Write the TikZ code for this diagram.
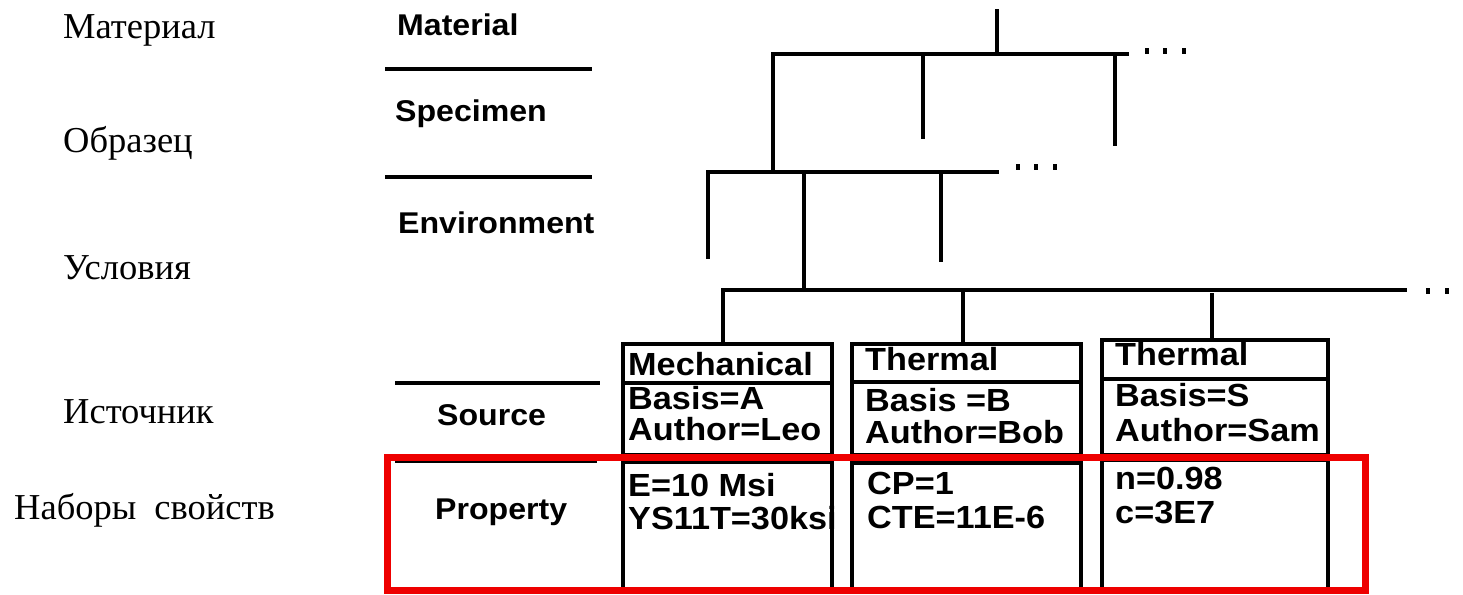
\documentclass[tikz,border=0pt]{standalone}
\usepackage{fontspec}
\setmainfont{Liberation Serif}
\newfontfamily\engb{Liberation Sans}[FakeStretch=1.07]
\definecolor{propred}{RGB}{238,0,0}
\begin{document}
\begin{tikzpicture}[x=1pt,y=-1pt,
  ru/.style={anchor=base west, inner sep=0pt, font=\fontsize{36.5}{40}\selectfont},
  lab/.style={anchor=base west, inner sep=0pt, font=\engb\bfseries\fontsize{30}{34}\selectfont},
  bt/.style={anchor=base west, inner sep=0pt, font=\engb\bfseries\fontsize{32}{36}\selectfont},
  tree/.style={line width=3.5pt, line cap=rect},
  rulel/.style={line width=3.7pt},
  cell/.style={draw, line width=3.7pt, inner sep=0pt, outer sep=0pt},
  redbox/.style={draw=propred, line width=7pt, inner sep=0pt},
  dotmark/.style={fill=black}]
\useasboundingbox (0,0) rectangle (1463,594);

% Russian labels
\node[ru] (ru1) at (63,39) {Материал};
\node[ru] (ru2) at (63,152) {Образец};
\node[ru] (ru3) at (63,279) {Условия};
\node[ru] (ru4) at (63,423) {Источник};
\node[ru] (ru5) at (14,519) {Наборы\hspace{9pt} свойств};

% English level labels
\node[lab] (lMat) at (397,36) {Material};
\node[lab] (lSpe) at (395,121) {Specimen};
\node[lab] (lEnv) at (398,233) {Environment};
\node[lab] (lSrc) at (437,425) {Source};
\node[lab] (lPro) at (435,519) {Property};

% separator rules
\coordinate (r1a) at (385,69);  \coordinate (r1b) at (592,69);
\coordinate (r2a) at (385,177); \coordinate (r2b) at (592,177);
\coordinate (r3a) at (395,383); \coordinate (r3b) at (600,383);
\coordinate (r4a) at (395,461); \coordinate (r4b) at (597,461);
\draw[rulel] (r1a) -- (r1b);
\draw[rulel] (r2a) -- (r2b);
\draw[rulel] (r3a) -- (r3b);
\draw[rulel] (r4a) -- (r4b);

% boxes
\node[cell, minimum width=209pt, minimum height=111pt] (b1u) at (727.5,399.5) {};
\node[cell, minimum width=209pt, minimum height=128pt] (b1l) at (727.5,526) {};
\node[cell, minimum width=229pt, minimum height=111pt] (b2u) at (966.5,399.5) {};
\node[cell, minimum width=229pt, minimum height=127pt] (b2l) at (966.5,526.5) {};
\node[cell, minimum width=226pt, minimum height=115pt] (b3u) at (1215,397.5) {};
\node[cell, minimum width=226pt, minimum height=130pt] (b3l) at (1215,525) {};
\draw[rulel] (b1u.west |- 0,383) -- (b1u.east |- 0,383);
\draw[rulel] (b2u.west |- 0,382) -- (b2u.east |- 0,382);
\draw[rulel] (b3u.west |- 0,379) -- (b3u.east |- 0,379);

% box texts
\node[bt] (t1a) at (628,375) {Mechanical};
\node[bt] (t1b) at (628,409) {Basis=A};
\node[bt] (t1c) at (628,440) {Author=Leo};
\node[bt] (t1d) at (628,496) {E=10 Msi};
\node[bt] (t1e) at (628,529) {YS11T=30ksi};
\node[bt] (t2a) at (865,370) {Thermal};
\node[bt] (t2b) at (865,411) {Basis =B};
\node[bt] (t2c) at (865,443) {Author=Bob};
\node[bt] (t2d) at (867,494) {CP=1};
\node[bt] (t2e) at (867,528) {CTE=11E-6};
\node[bt] (t3a) at (1115,365) {Thermal};
\node[bt] (t3b) at (1115,406) {Basis=S};
\node[bt] (t3c) at (1115,441) {Author=Sam};
\node[bt] (t3d) at (1115,489) {n=0.98};
\node[bt] (t3e) at (1115,523) {c=3E7};

% tree
\coordinate (root) at (997,11);
\coordinate (j1) at (997,54);
\coordinate (bar1L) at (773,54);
\coordinate (bar1R) at (1127,54);
\coordinate (s1top) at (923,54);  \coordinate (s1bot) at (923,137);
\coordinate (s2top) at (1115,54); \coordinate (s2bot) at (1115,144);
\coordinate (j2) at (773,172);
\coordinate (bar2L) at (708,172);
\coordinate (bar2R) at (997,172);
\coordinate (e1bot) at (708,257);
\coordinate (e2top) at (941,172); \coordinate (e2bot) at (941,260);
\coordinate (e3top) at (804,172); \coordinate (j3) at (804,290);
\coordinate (bar3L) at (723,290);
\coordinate (bar3R) at (1405,290);
\coordinate (k2) at (963,290);
\coordinate (k3) at (1212,295);

\draw[tree] (root) -- (j1);
\draw[tree] (j2) -- (bar1L) -- (bar1R);
\draw[tree] (s1top) -- (s1bot);
\draw[tree] (s2top) -- (s2bot);
\draw[tree] (e1bot) -- (bar2L) -- (bar2R);
\draw[tree] (e2top) -- (e2bot);
\draw[tree] (e3top) -- (j3);
\draw[tree] (b1u.north -| bar3L) -- (bar3L) -- (bar3R);
\draw[tree] (k2) -- (b2u.north -| k2);
\draw[tree] (k3) -- (b3u.north -| k3);

% continuation dots
\foreach \x in {1147,1165,1184} \fill[dotmark] (\x-2,48) rectangle (\x+2,54);
\foreach \x in {1018,1036,1055} \fill[dotmark] (\x-2,164) rectangle (\x+2,170);
\foreach \x in {1428,1447,1466} \fill[dotmark] (\x-2,288) rectangle (\x+2,294);

% property-set frame
\node[redbox, minimum width=978pt, minimum height=133pt] (propset) at (876,523.5) {};
\end{tikzpicture}
\end{document}
